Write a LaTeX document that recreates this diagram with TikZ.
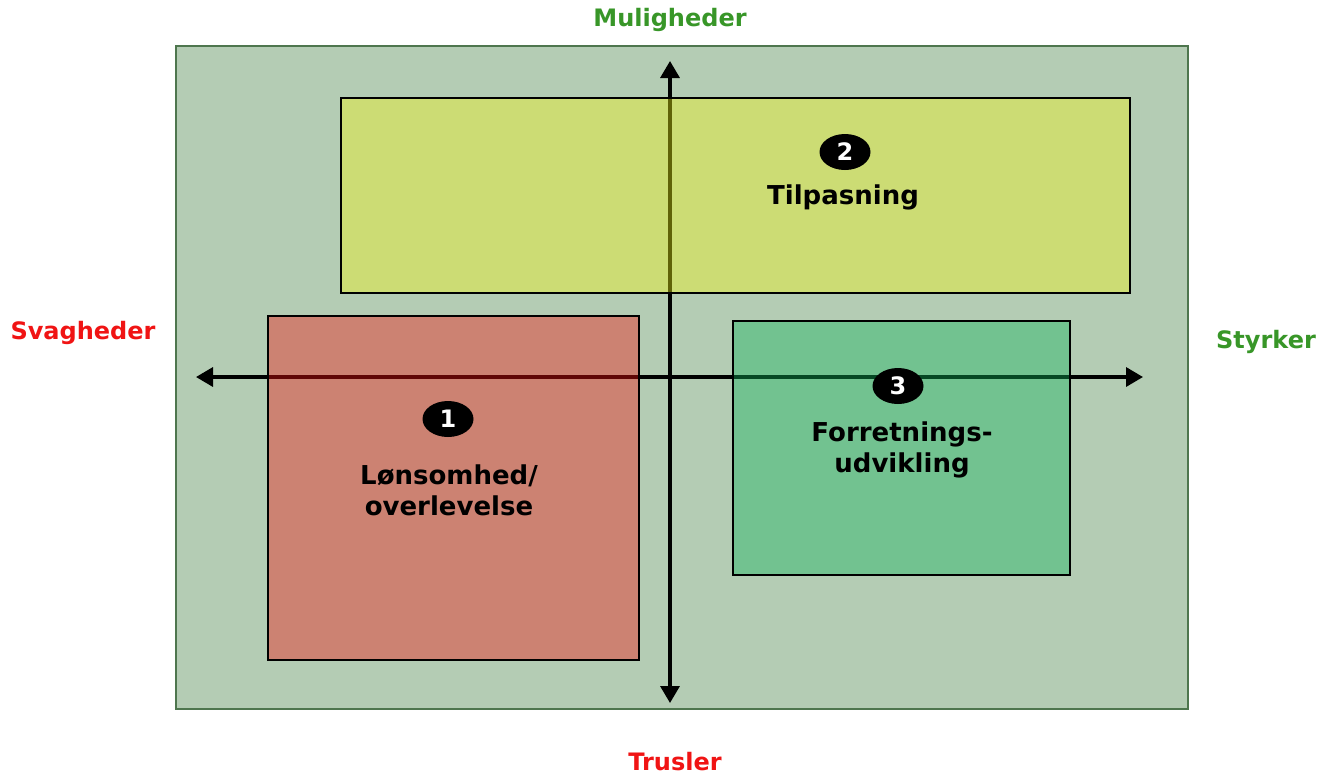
\documentclass[tikz,border=0pt]{standalone}
\usepackage{fontspec}
\setmainfont{DejaVu Sans}
\usetikzlibrary{arrows.meta,shapes.geometric}
\definecolor{panelfill}{RGB}{180,204,180}
\definecolor{panelline}{RGB}{78,118,78}
\definecolor{yellowbox}{RGB}{242,246,22}
\definecolor{redbox}{RGB}{242,19,17}
\definecolor{greenbox}{RGB}{17,181,92}
\definecolor{goodlabel}{RGB}{56,150,40}
\definecolor{badlabel}{RGB}{240,20,20}
\tikzset{
  zone/.style={draw=black, line width=2.2pt, fill opacity=0.4},
  axisline/.style={line width=3.4pt, -{Triangle[width=19pt,length=17pt]}},
  badge/.style={ellipse, fill=black, text=white, inner sep=0pt,
    minimum width=51pt, minimum height=36pt, font=\bfseries\fontsize{24}{24}\selectfont},
  zonetext/.style={align=center, font=\bfseries\fontsize{26}{31}\selectfont},
  axislabel/.style={font=\bfseries\fontsize{24}{28}\selectfont}
}
\begin{document}
\begin{tikzpicture}[x=1pt,y=-1pt]
\useasboundingbox (0,0) rectangle (1322,777);
% panel
\node[draw=panelline, fill=panelfill, line width=2.4pt, minimum width=1012pt, minimum height=663pt, inner sep=0pt, anchor=north west] (panel) at (175,45) {};
% axes
\coordinate (top) at (670,61);
\coordinate (bottom) at (670,703);
\coordinate (left) at (196,377);
\coordinate (right) at (1143,377);
\coordinate (mid) at (670,377);
\draw[axisline] (mid) -- (top);
\draw[axisline] (mid) -- (bottom);
\draw[axisline] (mid) -- (left);
\draw[axisline] (mid) -- (right);
% zones
\draw[zone, fill=yellowbox] (341,98) rectangle (1130,293);
\draw[zone, fill=redbox] (268,316) rectangle (639,660);
\draw[zone, fill=greenbox] (733,321) rectangle (1070,575);
% badges and zone texts
\node[badge] (b2) at (845,152) {2};
\node[zonetext] (t2) at (843,197) {Tilpasning};
\node[badge] (b1) at (448,419) {1};
\node[zonetext] (t1) at (449,490) {Lønsomhed/\\overlevelse};
\node[badge] (b3) at (898,386) {3};
\node[zonetext] (t3) at (902,450) {Forretnings-\\udvikling};
% axis labels
\node[axislabel, text=goodlabel] (up) at (670,20) {Muligheder};
\node[axislabel, text=badlabel] (down) at (675,762) {Trusler};
\node[axislabel, text=badlabel] (weak) at (83,333) {Svagheder};
\node[axislabel, text=goodlabel] (strong) at (1266,342) {Styrker};
\end{tikzpicture}
\end{document}
